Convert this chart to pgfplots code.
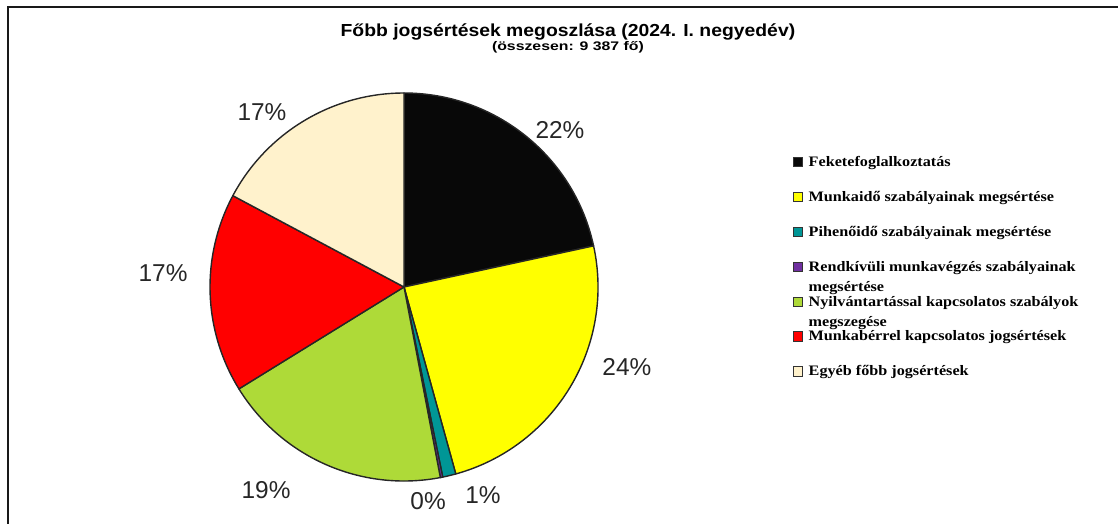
\documentclass[border=0pt]{standalone}
\usepackage{pgfplots}
\pgfplotsset{compat=1.18}
\usepackage{pgfplotstable}
\usepackage{fontspec}
\setmainfont{Liberation Sans}
\newfontfamily\legfont[FakeStretch=1.12]{Liberation Serif}
\newfontfamily\titfont[FakeStretch=1.11]{Liberation Sans}
\newfontfamily\subfont[FakeStretch=1.27]{Liberation Sans}

\definecolor{slice0}{RGB}{8,8,8}
\definecolor{slice1}{RGB}{255,255,0}
\definecolor{slice2}{RGB}{0,150,150}
\definecolor{slice3}{RGB}{112,48,160}
\definecolor{slice4}{RGB}{174,218,56}
\definecolor{slice5}{RGB}{255,0,0}
\definecolor{slice6}{RGB}{255,242,204}

% share (%) and label position (axis units, radius = 1)
\pgfplotstableread{
val  lx      ly
21.6  0.804   0.809
24.1  1.149  -0.412
1.1   0.407  -1.072
0.2   0.124  -1.103
19.2 -0.711  -1.046
16.6 -1.242   0.072
17.2 -0.732   0.902
}\piedata

\newcommand\E[1]{\rule[-3.5bp]{0pt}{14bp}\smash{\def\arraystretch{1.125}\begin{tabular}[t]{@{}l@{}}#1\end{tabular}}}
\newcommand\pctfont{\fontsize{24.5}{28}\selectfont}

\begin{document}
\begin{tikzpicture}
\begin{axis}[
  at={(0,0)}, anchor=south west,
  x=194bp, y=194bp,
  xmin=-2.0825, xmax=3.6804, ymin=-1.2216, ymax=1.4794,
  hide axis, clip=false,
  legend style={draw=none, fill=none, at={(0.7093,0.7061)}, anchor=north west,
    inner sep=0pt, outer sep=0pt, row sep=18.9bp, column sep=3.5bp,
    font=\legfont\bfseries\fontsize{14.5}{18}\selectfont,
    cells={anchor=base west, inner sep=0pt}},
  legend image code/.code={\draw[#1, draw=black!80, line width=0.9bp] (0bp,-0.3bp) rectangle (9.3bp,9bp);},
]
% frame
\draw[black!90, line width=2.2bp] (axis cs:-2.0412,-1.2216) -- (axis cs:-2.0412,1.4433) -- (axis cs:3.6804,1.4433);

\pgfmathsetmacro\startang{90}
\pgfplotsforeachungrouped \i in {0,...,6}{%
  \pgfplotstablegetelem{\i}{val}\of\piedata \let\v\pgfplotsretval
  \pgfplotstablegetelem{\i}{lx}\of\piedata \let\lx\pgfplotsretval
  \pgfplotstablegetelem{\i}{ly}\of\piedata \let\ly\pgfplotsretval
  \pgfmathsetmacro\endang{\startang-3.6*\v}
  \pgfmathtruncatemacro\lab{round(\v)}
  \edef\tmp{\noexpand\filldraw[fill=slice\i, draw=black!85, line width=1.4bp, line join=round]
      (axis cs:0,0) -- ++(\startang:194bp) arc[start angle=\startang, end angle=\endang, radius=194bp] -- cycle;
    \noexpand\node[font=\noexpand\pctfont, text=black!85] at (axis cs:\lx,\ly) {\lab\noexpand\%};}%
  \tmp
  \global\let\startang\endang
}

\node[font=\titfont\bfseries\fontsize{17.5}{20}\selectfont, anchor=base] at (axis cs:0.845,1.2887) {Főbb jogsértések megoszlása (2024. I. negyedév)};
\node[font=\subfont\bfseries\fontsize{12.5}{14}\selectfont, anchor=base] at (axis cs:0.845,1.2216) {(összesen: 9 387 fő)};

\addlegendimage{fill=slice0}\addlegendentry{\E{Feketefoglalkoztatás}}
\addlegendimage{fill=slice1}\addlegendentry{\E{Munkaidő szabályainak megsértése}}
\addlegendimage{fill=slice2}\addlegendentry{\E{Pihenőidő szabályainak megsértése}}
\addlegendimage{fill=slice3}\addlegendentry{\E{Rendkívüli munkavégzés szabályainak\\megsértése}}
\addlegendimage{fill=slice4}\addlegendentry{\E{Nyilvántartással kapcsolatos szabályok\\megszegése}}
\addlegendimage{fill=slice5}\addlegendentry{\E{Munkabérrel kapcsolatos jogsértések}}
\addlegendimage{fill=slice6}\addlegendentry{\E{Egyéb főbb jogsértések}}
\end{axis}
\pgfresetboundingbox
\path[use as bounding box] (0,0) rectangle (1118bp,524bp);
\end{tikzpicture}
\end{document}
